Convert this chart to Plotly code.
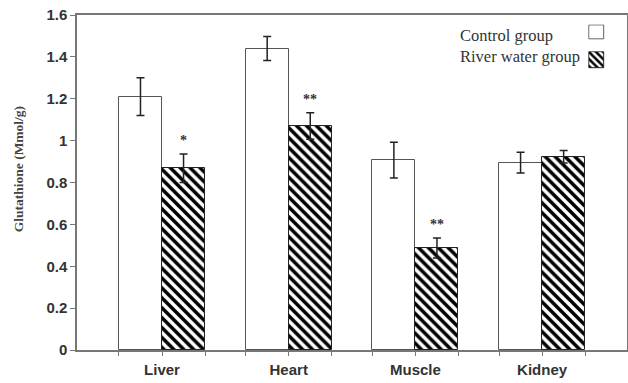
import plotly.graph_objects as go

categories = ["Liver", "Heart", "Muscle", "Kidney"]
control = [1.21, 1.44, 0.907, 0.895]
control_err = [0.09, 0.057, 0.085, 0.05]
river = [0.868, 1.07, 0.487, 0.923]
river_err = [0.068, 0.063, 0.048, 0.03]
signif = ["*", "**", "**", ""]
y_ticks = [0, 0.2, 0.4, 0.6, 0.8, 1.0, 1.2, 1.4, 1.6]
legend_names = ["Control group", "River water group"]

xs = list(range(len(categories)))
bw = 0.34
off = 0.17

fig = go.Figure()
fig.add_trace(go.Bar(
    x=[x - off for x in xs], y=control, width=bw, name=legend_names[0],
    marker=dict(color="white", line=dict(color="#555", width=1)),
    error_y=dict(type="data", array=control_err, color="#222", thickness=1.5, width=4),
    showlegend=False,
))
fig.add_trace(go.Bar(
    x=[x + off for x in xs], y=river, width=bw, name=legend_names[1],
    marker=dict(color="white", line=dict(color="#222", width=1),
                pattern=dict(shape="\\", fgcolor="black", bgcolor="white", size=7, solidity=0.5)),
    error_y=dict(type="data", array=river_err, color="#222", thickness=1.5, width=4),
    showlegend=False,
))

# significance markers
for x, v, e, s in zip(xs, river, river_err, signif):
    if s:
        fig.add_annotation(x=x + off, y=v + e, text="<b>%s</b>" % s, showarrow=False, yanchor="bottom",
                           yshift=4, font=dict(family="Liberation Serif", size=14, color="#333"))

# legend swatches (small axes)
fig.add_trace(go.Bar(x=[0], y=[1], width=1, xaxis="x2", yaxis="y2", showlegend=False,
                     marker=dict(color="white", line=dict(color="#555", width=1)), hoverinfo="skip"))
fig.add_trace(go.Bar(x=[0], y=[1], width=1, xaxis="x3", yaxis="y3", showlegend=False,
                     marker=dict(color="white", line=dict(color="#222", width=1),
                                 pattern=dict(shape="\\", fgcolor="black", bgcolor="white", size=5, solidity=0.5)),
                     hoverinfo="skip"))
fig.add_annotation(xref="paper", yref="paper", x=0.693, y=0.940, text=legend_names[0], showarrow=False,
                   xanchor="left", yanchor="middle", font=dict(family="Liberation Serif", size=16.5, color="#333"))
fig.add_annotation(xref="paper", yref="paper", x=0.693, y=0.875, text=legend_names[1], showarrow=False,
                   xanchor="left", yanchor="middle", font=dict(family="Liberation Serif", size=16.5, color="#333"))

# y title
fig.add_annotation(xref="paper", yref="paper", x=-0.107, y=0.54, text="<b>Glutathione (Mmol/g)</b>", textangle=-90,
                   xanchor="center", yanchor="middle",
                   showarrow=False, font=dict(family="Liberation Serif", size=13.5, color="#444"))

edges = []
for x in xs:
    edges += [x - 2 * off, x, x + 2 * off]

axis_font = dict(family="Liberation Sans", size=15, color="#333")
sw_x = dict(domain=[0.9295, 0.9595], range=[-0.55, 0.55], visible=False, automargin=False)
fig.update_layout(
    template="none",
    width=628, height=383,
    margin=dict(l=77, r=1, t=15, b=33, pad=0),
    plot_bgcolor="white", paper_bgcolor="white",
    bargap=0,
    xaxis=dict(range=[-0.671, 3.67], tickvals=xs, ticktext=["<b>%s</b>" % c for c in categories],
               ticks="", showgrid=False, zeroline=False, showline=True, linecolor="#777", linewidth=1.5,
               mirror=True, tickfont=axis_font, ticklabelstandoff=5, automargin=False,
               minor=dict(tickvals=edges, ticks="outside", ticklen=4, tickcolor="#777", tickwidth=1,
                          showgrid=False)),
    yaxis=dict(range=[0, 1.6], tickvals=y_ticks, ticktext=["<b>%g</b>" % t for t in y_ticks],
               ticks="outside", ticklen=5, tickcolor="#777", showgrid=False, zeroline=False,
               showline=True, linecolor="#777", linewidth=1.5, mirror=True, tickfont=axis_font,
               automargin=False),
    xaxis2=dict(sw_x, anchor="y2"),
    yaxis2=dict(domain=[0.926, 0.972], range=[-0.05, 1.05], visible=False, anchor="x2", automargin=False),
    xaxis3=dict(sw_x, anchor="y3"),
    yaxis3=dict(domain=[0.839, 0.892], range=[-0.05, 1.05], visible=False, anchor="x3", automargin=False),
)

fig.write_html("out.html", config={"displayModeBar": False},
               post_script="document.body.style.margin='0';document.body.style.padding='0';")
